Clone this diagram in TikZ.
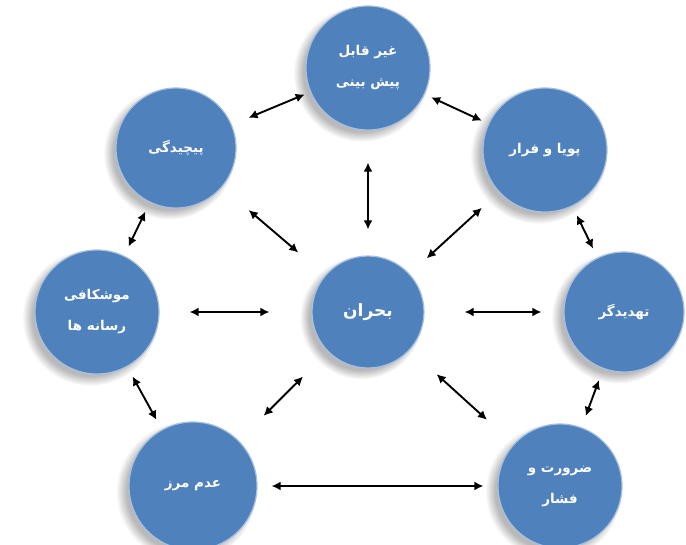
\documentclass[tikz,border=0pt]{standalone}
\usepackage{fontspec}
\usepackage{tikz}
\usetikzlibrary{arrows.meta,shapes,shadows}
\TeXXeTstate=1
\newfontfamily\farsifont[Script=Arabic,BoldFont={DejaVu Sans Bold}]{DejaVu Sans}
\newcommand{\rtltext}[1]{\beginR #1\endR}
\definecolor{bubbleblue}{RGB}{79,129,189}
\tikzstyle{bubble}=[circle,fill=bubbleblue,draw=bubbleblue!50!white,line width=1.2pt,minimum size=124pt,inner sep=0pt,text=white,align=center,font=\farsifont\bfseries\fontsize{13.5}{31}\selectfont,circular drop shadow={shadow xshift=-6pt,shadow yshift=-5pt,opacity=.55}]
\tikzstyle{link} = [draw,line width=1.9pt,{Latex[length=9pt,width=9pt]}-{Latex[length=9pt,width=9pt]}]

\begin{document}
\begin{tikzpicture}[x=1pt,y=-1pt]
      \useasboundingbox (0,0) rectangle (686,544);
      \node[bubble] (unpred) at (368,68) {\rtltext{غیر قابل}\\\rtltext{پیش بینی}};
      \node[bubble,minimum size=120pt] (complex) at (176,148) {\rtltext{پیچیدگی}};
      \node[bubble] (dynamic) at (545,150) {\rtltext{پویا و فرار}};
      \node[bubble] (media) at (97,312) {\rtltext{موشکافی}\\\rtltext{رسانه ها}};
      \node[bubble,minimum size=112pt,font=\farsifont\bfseries\fontsize{17}{19}\selectfont] (crisis) at (368,312) {\rtltext{بحران}};
      \node[bubble,minimum size=120pt] (threat) at (624,312) {\rtltext{تهدیدگر}};
      \node[bubble,minimum size=128pt] (nobound) at (193,486) {\rtltext{عدم مرز}};
      \node[bubble] (urgency) at (560,486) {\rtltext{ضرورت و}\\\rtltext{فشار}};
      % outer ring
      \draw[link,shorten <=18pt,shorten >=6pt] (complex) to (unpred);
      \draw[link,shorten <=7pt,shorten >=7pt] (unpred) to (dynamic);
      \draw[link,shorten <=10pt,shorten >=10pt] (dynamic) to (threat);
      \draw[link,shorten <=12pt,shorten >=12pt] (threat) to (urgency);
      \draw[link,shorten <=14pt,shorten >=14pt] (nobound) to (urgency);
      \draw[link,shorten <=11pt,shorten >=11pt] (media) to (nobound);
      \draw[link,shorten <=10pt,shorten >=10pt] (complex) to (media);
      % spokes
      \draw[link,shorten <=26pt,shorten >=32pt] (crisis) to (unpred);
      \draw[link,shorten <=35pt,shorten >=35pt] (crisis) to (complex);
      \draw[link,shorten <=23pt,shorten >=23pt] (crisis) to (dynamic);
      \draw[link,shorten <=42pt,shorten >=30pt] (crisis) to (media);
      \draw[link,shorten <=40pt,shorten >=22pt] (crisis) to (threat);
      \draw[link,shorten <=35pt,shorten >=35pt] (crisis) to (nobound);
      \draw[link,shorten <=36pt,shorten >=36pt] (crisis) to (urgency);
\end{tikzpicture}
\end{document}
